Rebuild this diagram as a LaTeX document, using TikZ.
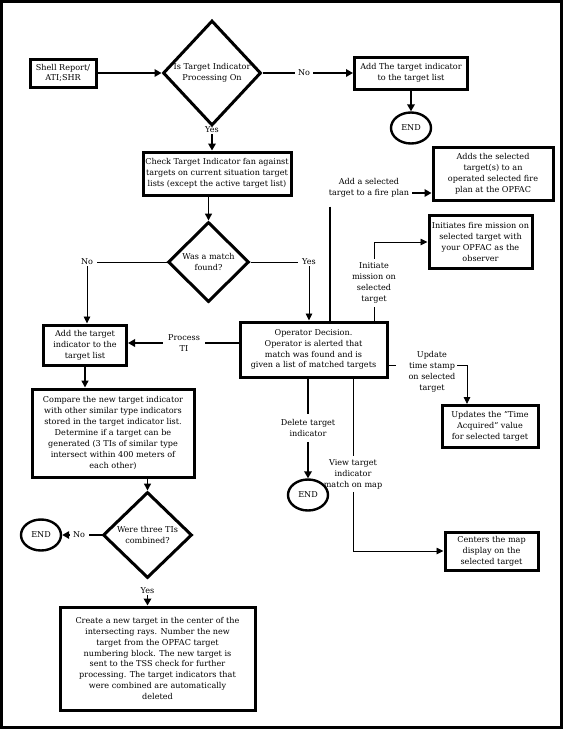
\documentclass[tikz,border=0pt]{standalone}
\usepackage{fontspec}
\setmainfont{DejaVu Serif}
\usetikzlibrary{shapes.geometric,arrows.meta,calc}
\newcommand\ff{\fontsize{8.1}{10.9}\selectfont}
\tikzset{
  box/.style={draw, line width=3pt, align=center, inner sep=0pt},
  dia/.style={draw, diamond, line width=3pt, inner sep=0pt},
  endnode/.style={draw, ellipse, line width=2.4pt, minimum width=40pt, minimum height=31pt, inner sep=0pt},
  lbl/.style={align=center, inner sep=1pt},
  hlbl/.style={align=center, inner xsep=4pt, inner ysep=1pt},
  ln/.style={line width=1.9pt},
  arr/.style={ln, -{Triangle[length=7pt,width=7.5pt]}},
  medarr/.style={line width=1.4pt, -{Triangle[length=7pt,width=7pt]}},
  thinln/.style={line width=0.9pt},
  thinarr/.style={thinln, -{Triangle[length=7pt,width=6.5pt]}},
}
\begin{document}
\begin{tikzpicture}[x=1pt,y=-1pt,every node/.style={font=\ff}]
\useasboundingbox (0,0) rectangle (563,729);
\draw[line width=3pt] (1.5,1.5) rectangle (561.5,727.5);

% top row
\node[box, minimum width=66pt, minimum height=28pt] (shell) at (63,73) {Shell Report/\\ATI;SHR};
\node[dia, minimum width=98pt, minimum height=105pt] (d1) at (212,73) {};
\node[lbl] (d1t) at (d1) {Is Target Indicator\\Processing On};
\node[lbl, inner xsep=3pt] (no1) at (304,73) {No};
\node[box, minimum width=113pt, minimum height=32pt] (add1) at (411,73) {Add The target indicator\\to the target list};
\node[endnode] (end1) at (411,128) {END};
\node[lbl] (yes1) at (212,130) {Yes};

\node[box, minimum width=148pt, minimum height=43pt] (check) at (217,173.5) {Check Target Indicator fan against\\targets on current situation target\\lists (except the active target list)};
\node[dia, minimum width=81pt, minimum height=80pt] (d2) at (208.5,262) {};
\node[lbl] (d2t) at (d2) {Was a match\\found?};
\node[hlbl] (no2) at (87,262) {No};
\node[hlbl] (yes2) at (309,262) {Yes};

\node[box, minimum width=83pt, minimum height=40pt] (addT) at (85,345) {Add the target\\indicator to the\\target list};
\node[box, minimum width=147pt, minimum height=55pt] (op) at (313.5,349.5) {Operator Decision.\\Operator is alerted that\\match was found and is\\given a list of matched targets};
\node[lbl, inner xsep=5pt] (proc) at (184,343) {Process\\TI};

\node[box, minimum width=162pt, minimum height=88pt] (comp) at (113,433) {Compare the new target indicator\\with other similar type indicators\\stored in the target indicator list.\\Determine if a target can be\\generated (3 TIs of similar type\\intersect within 400 meters of\\each other)};
\node[dia, minimum width=89pt, minimum height=86pt] (d3) at (147.5,535) {};
\node[lbl] (d3t) at (d3) {Were three TIs\\combined?};
\node[endnode] (end2) at (41,535) {END};
\node[hlbl] (no3) at (79,535) {No};
\node[lbl] (yes3) at (147.5,591) {Yes};
\node[box, minimum width=195pt, minimum height=103pt] (create) at (157.5,658.5) {Create a new target in the center of the\\intersecting rays. Number the new\\target from the OPFAC target\\numbering block. The new target is\\sent to the TSS check for further\\processing. The target indicators that\\were combined are automatically\\deleted};

% right side
\node[box, minimum width=120pt, minimum height=53pt] (adds) at (493,173.5) {Adds the selected\\target(s) to an\\operated selected fire\\plan at the OPFAC};
\node[lbl] (addsel) at (369,188) {Add a selected\\target to a fire plan};
\node[box, minimum width=103pt, minimum height=53pt] (inits) at (480.5,242) {Initiates fire mission on\\selected target with\\your OPFAC as the\\observer};
\node[lbl] (init) at (374,283) {Initiate\\mission on\\selected\\target};
\node[lbl] (upd) at (432,372) {Update\\time stamp\\on selected\\target};
\node[box, minimum width=96pt, minimum height=42pt] (updates) at (490,426.5) {Updates the "Time\\Acquired" value\\for selected target};
\node[lbl, inner ysep=5pt] (del) at (308,428) {Delete target\\indicator};
\node[endnode] (end3) at (308,495) {END};
\node[lbl, inner ysep=3pt] (view) at (353,474) {View target\\indicator\\match on map};
\node[box, minimum width=93pt, minimum height=38pt] (centers) at (491.5,551) {Centers the map\\display on the\\selected target};

\coordinate (u1) at (396,365);
\coordinate (u2) at (457,365);
\coordinate (u3) at (467,365);

% connectors
\draw[arr] (shell.east) -- (d1.west);
\draw[ln] (d1.east) -- (no1.west);
\draw[arr] (no1.east) -- (add1.west);
\draw[arr] (add1.south) -- (end1.north);
\draw[arr] (yes1.south) -- (yes1.south |- check.north);
\draw[medarr] (d2.north |- check.south) -- (d2.north);
\draw[thinln] (d2.west) -- (no2.east);
\draw[thinarr] (no2.south) -- (no2.south |- addT.north);
\draw[thinln] (d2.east) -- (yes2.west);
\draw[thinarr] (yes2.south) -- (yes2.south |- op.north);
\draw[ln] (op.west |- proc.east) -- (proc.east);
\draw[arr] (proc.west) -- (proc.west -| addT.east);
\draw[medarr] (addT.south) -- (addT.south |- comp.north);
\draw[medarr] (d3.north |- comp.south) -- (d3.north);
\draw[ln] (d3.west) -- (no3.east);
\draw[arr] (no3.west) -- (end2.east);
\draw[arr] (yes3.south) -- (yes3.south |- create.north);

\draw[ln] ([xshift=-39pt,yshift=-8pt]addsel.south) -- ([xshift=-39pt]addsel.south |- op.north);
\draw[arr] ([xshift=2pt,yshift=-5pt]addsel.east) -- ([yshift=-5pt]addsel.east -| adds.west);
\draw[thinarr] ([yshift=3pt]init.north) |- (inits.west);
\draw[thinln] ([yshift=-3pt]init.south) -- (init.south |- op.north);
\draw[thinln] (u1 -| op.east) -- (u1);
\draw[thinarr] (u2) -- (u3) -- (u3 |- updates.north);
\draw[ln] (del.north |- op.south) -- (del.north);
\draw[arr] (del.south) -- (end3.north);
\draw[thinln] (view.north |- op.south) -- (view.north);
\draw[thinarr] (view.south) |- (centers.west);
\end{tikzpicture}
\end{document}
